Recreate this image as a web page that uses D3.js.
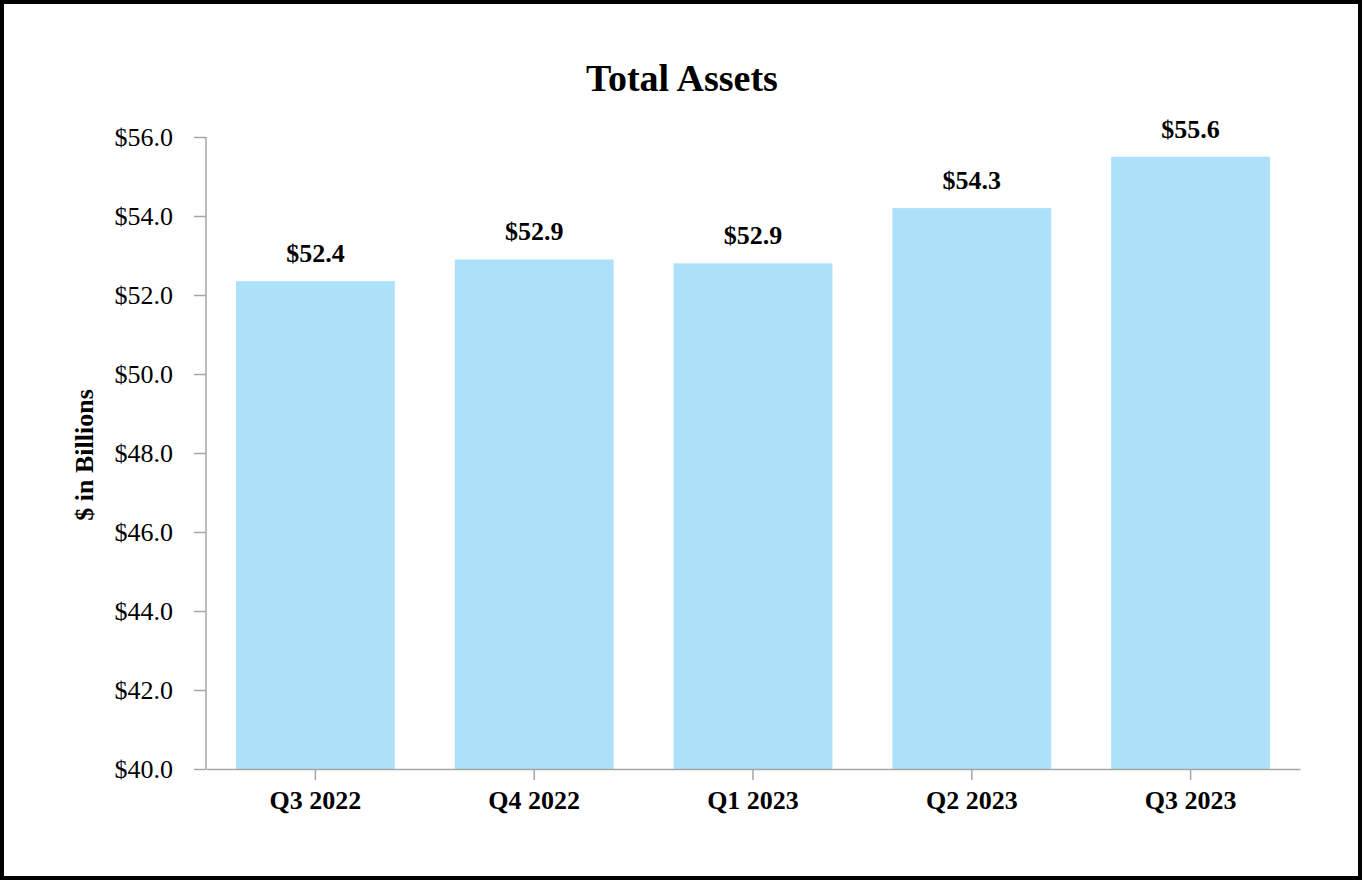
<!DOCTYPE html>
<html>
    <head>
        <title>Total Assets</title>
        <script src="https://d3js.org/d3.v7.min.js"></script>
        <style>
            body { margin: 0; background: #fff; }
            svg { display: block; font-family: "Liberation Serif", "Times New Roman", serif; }
        </style>
    </head>
    <body>
        <script>
            var quarters = ["Q3 2022", "Q4 2022", "Q1 2023", "Q2 2023", "Q3 2023"];
            var assets = [52.35, 52.9, 52.8, 54.2, 55.5];
            var valueLabels = ["$52.4", "$52.9", "$52.9", "$54.3", "$55.6"];
            var yTicks = [40, 42, 44, 46, 48, 50, 52, 54, 56];

            var width = 1364;
            var height = 880;

            var svg = d3.select("body")
                        .append("svg")
                        .attr("width", width)
                        .attr("height", height);

            // frame
            svg.append("rect")
               .attr("x", 2)
               .attr("y", 2)
               .attr("width", 1358)
               .attr("height", 876)
               .attr("fill", "#fff")
               .attr("stroke", "#000")
               .attr("stroke-width", 4);

            var x = d3.scaleBand()
                      .domain(quarters)
                      .range([206, 1300])
                      .paddingInner(0.274)
                      .paddingOuter(0.137);

            var y = d3.scaleLinear()
                      .domain([40, 56])
                      .range([769, 137]);

            svg.append("text")
               .attr("x", 682)
               .attr("y", 91)
               .attr("text-anchor", "middle")
               .attr("font-size", 38)
               .attr("font-weight", "bold")
               .text("Total Assets");

            svg.selectAll("rect.bar")
               .data(assets)
               .enter()
                  .append("rect")
                  .attr("class", "bar")
                  .attr("x", function(d, i){ return x(quarters[i]); })
                  .attr("width", x.bandwidth())
                  .attr("y", function(d){ return y(d); })
                  .attr("height", function(d){ return y(40) - y(d); })
                  .attr("fill", "#ADE0F9");

            svg.selectAll("text.val")
               .data(assets)
               .enter()
                  .append("text")
                  .attr("class", "val")
                  .attr("x", function(d, i){ return x(quarters[i]) + x.bandwidth() / 2; })
                  .attr("y", function(d){ return y(d) - 19; })
                  .attr("text-anchor", "middle")
                  .attr("font-size", 26)
                  .attr("font-weight", "bold")
                  .text(function(d, i){ return valueLabels[i]; });

            var yAxis = d3.axisLeft(y)
                          .tickValues(yTicks)
                          .tickSize(12)
                          .tickPadding(21)
                          .tickFormat(function(d){ return "$" + d3.format(".1f")(d); });

            var gy = svg.append("g")
                        .attr("transform", "translate(206,0)")
                        .call(yAxis);

            var xAxis = d3.axisBottom(x)
                          .tickSize(11)
                          .tickSizeOuter(0)
                          .tickPadding(11);

            var gx = svg.append("g")
                        .attr("transform", "translate(0,769)")
                        .call(xAxis);

            gy.select(".domain").attr("d", "M0,137V769");
            gy.selectAll("text").attr("font-size", 26).attr("fill", "#000")
              .attr("font-family", "Liberation Serif, Times New Roman, serif");
            gx.selectAll("text").attr("font-size", 26).attr("font-weight", "bold").attr("fill", "#000")
              .attr("font-family", "Liberation Serif, Times New Roman, serif");
            svg.selectAll(".domain, .tick line").attr("stroke", "#a6a6a6").attr("stroke-width", 1.5);

            svg.append("text")
               .attr("transform", "translate(93,455) rotate(-90)")
               .attr("text-anchor", "middle")
               .attr("font-size", 26)
               .attr("font-weight", "bold")
               .text("$ in Billions");
        </script>
    </body>
</html>
